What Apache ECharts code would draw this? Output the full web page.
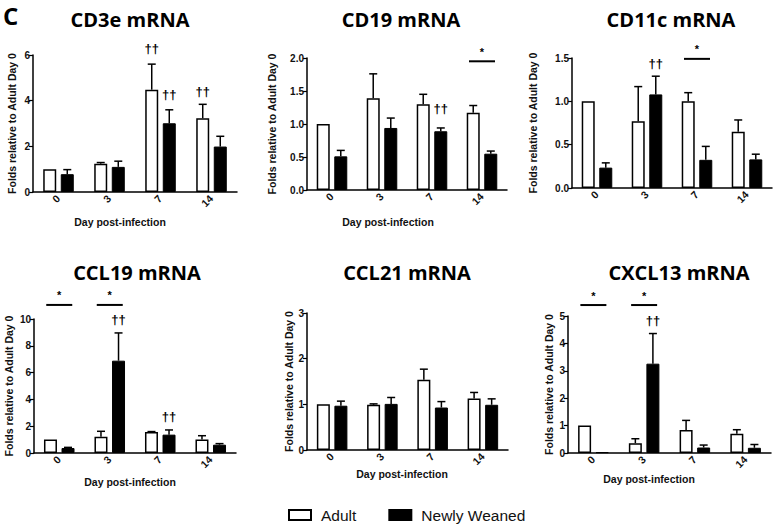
<!DOCTYPE html>
<html><head><meta charset="utf-8">
<script src="https://cdn.jsdelivr.net/npm/echarts@6/dist/echarts.min.js"></script>
<style>html,body{margin:0;padding:0;background:#fff}#c{width:777px;height:524px}</style>
</head><body><div id="c"></div><script>
// ---- data ----
const days = ['0', '3', '7', '14'];
const seriesNames = ['Adult', 'Newly Weaned'];
const panelTitles = ['CD3e mRNA', 'CD19 mRNA', 'CD11c mRNA', 'CCL19 mRNA', 'CCL21 mRNA', 'CXCL13 mRNA'];
const yAxisTitle = 'Folds relative to Adult Day 0';
const xAxisTitle = 'Day post-infection';

const cd3eAdult = [1.0, 1.24, 4.48, 3.23];
const cd3eAdultSem = [0, 0.05, 1.12, 0.61];
const cd3eWeaned = [0.78, 1.10, 3.01, 1.99];
const cd3eWeanedSem = [0.20, 0.25, 0.59, 0.45];

const cd19Adult = [1.0, 1.39, 1.30, 1.17];
const cd19AdultSem = [0, 0.37, 0.15, 0.11];
const cd19Weaned = [0.51, 0.94, 0.89, 0.55];
const cd19WeanedSem = [0.09, 0.15, 0.05, 0.04];

const cd11cAdult = [1.0, 0.77, 1.0, 0.65];
const cd11cAdultSem = [0, 0.40, 0.10, 0.135];
const cd11cWeaned = [0.235, 1.08, 0.325, 0.33];
const cd11cWeanedSem = [0.055, 0.21, 0.155, 0.06];

const ccl19Adult = [1.0, 1.22, 1.57, 1.0];
const ccl19AdultSem = [0, 0.40, 0.03, 0.29];
const ccl19Weaned = [0.37, 6.89, 1.37, 0.62];
const ccl19WeanedSem = [0.05, 2.07, 0.35, 0.08];

const ccl21Adult = [1.0, 0.99, 1.54, 1.13];
const ccl21AdultSem = [0, 0.02, 0.23, 0.13];
const ccl21Weaned = [0.97, 1.01, 0.93, 0.99];
const ccl21WeanedSem = [0.10, 0.14, 0.13, 0.13];

const cxcl13Adult = [1.0, 0.36, 0.84, 0.70];
const cxcl13AdultSem = [0, 0.16, 0.35, 0.15];
const cxcl13Weaned = [0.03, 3.26, 0.20, 0.19];
const cxcl13WeanedSem = [0, 1.10, 0.09, 0.12];

// y-axis ranges: [max, interval, decimals]
const yRanges = [[6, 2, 0], [2, 0.5, 1], [1.5, 0.5, 1], [10, 2, 0], [3, 1, 0], [5, 1, 0]];

// daggers "††": [dayIndex, group (0 Adult, 1 Newly Weaned), y value]
const cd3eDaggers = [[2, 0, 6.3], [2, 1, 4.25], [3, 0, 4.42]];
const cd19Daggers = [[2, 1, 1.24]];
const cd11cDaggers = [[1, 1, 1.44]];
const ccl19Daggers = [[1, 1, 9.95], [2, 1, 2.7]];
const ccl21Daggers = [];
const cxcl13Daggers = [[1, 1, 4.85]];
// significance "*": [dayIndex, y value of bar]
const cd3eStars = [];
const cd19Stars = [[3, 1.95]];
const cd11cStars = [[2, 1.49]];
const ccl19Stars = [[0, 11.05], [1, 11.05]];
const ccl21Stars = [];
const cxcl13Stars = [[0, 5.4], [1, 5.4]];

// ---- build ----
const panels = [
  {a: cd3eAdult, as: cd3eAdultSem, w: cd3eWeaned, ws: cd3eWeanedSem, d: cd3eDaggers, s: cd3eStars},
  {a: cd19Adult, as: cd19AdultSem, w: cd19Weaned, ws: cd19WeanedSem, d: cd19Daggers, s: cd19Stars},
  {a: cd11cAdult, as: cd11cAdultSem, w: cd11cWeaned, ws: cd11cWeanedSem, d: cd11cDaggers, s: cd11cStars},
  {a: ccl19Adult, as: ccl19AdultSem, w: ccl19Weaned, ws: ccl19WeanedSem, d: ccl19Daggers, s: ccl19Stars},
  {a: ccl21Adult, as: ccl21AdultSem, w: ccl21Weaned, ws: ccl21WeanedSem, d: ccl21Daggers, s: ccl21Stars},
  {a: cxcl13Adult, as: cxcl13AdultSem, w: cxcl13Weaned, ws: cxcl13WeanedSem, d: cxcl13Daggers, s: cxcl13Stars}
];
const boxes = [
  {left: 33, top: 55, width: 204, height: 137, tx: 130, ty: 19, gap: 16, xn: [120, 222]},
  {left: 307, top: 58, width: 200, height: 132, tx: 401, ty: 19, gap: 30, xn: [388, 222]},
  {left: 572, top: 58, width: 200, height: 130, tx: 671, ty: 19, gap: 34, xn: null},
  {left: 34, top: 319, width: 202, height: 134, tx: 137, ty: 272, gap: 20, xn: [130, 482]},
  {left: 307, top: 313, width: 201, height: 137, tx: 407, ty: 272, gap: 13, xn: [402, 474]},
  {left: 568, top: 316, width: 203, height: 137, tx: 679, ty: 272, gap: 14, xn: [649, 479]}
];

const BW = 13, GAPR = 0.35;
const OFF = [-(BW + BW * GAPR) / 2, (BW + BW * GAPR) / 2];
const CAP = 4;
const AX = '#000';
const FONT = '"Liberation Sans", Arial, sans-serif';

const grids = [], xAxes = [], yAxes = [], series = [], graphics = [];

panels.forEach((p, k) => {
  const b = boxes[k];
  const r = yRanges[k];
  grids.push({left: b.left, top: b.top, width: b.width, height: b.height, containLabel: false, outerBoundsMode: 'none'});
  xAxes.push({
    type: 'category', gridIndex: k, data: days,
    axisLine: {lineStyle: {color: AX, width: 1.5}},
    axisTick: {alignWithLabel: true, length: 4, lineStyle: {color: AX, width: 1.2}},
    axisLabel: {rotate: 45, margin: 5, color: '#111', fontFamily: FONT, fontWeight: 'bold', fontSize: 10.5}
  });
  yAxes.push({
    type: 'value', gridIndex: k, min: 0, max: r[0], interval: r[1],
    name: yAxisTitle, nameLocation: 'middle', nameGap: b.gap,
    nameTextStyle: {color: '#111', fontFamily: FONT, fontWeight: 'bold', fontSize: 10.5},
    axisLine: {show: true, lineStyle: {color: AX, width: 1.5}},
    axisTick: {show: true, length: 4, lineStyle: {color: AX, width: 1.2}},
    splitLine: {show: false},
    axisLabel: {margin: 3, color: '#111', fontFamily: FONT, fontWeight: 'bold', fontSize: 10,
      formatter: v => v.toFixed(r[2])}
  });
  series.push({
    type: 'bar', name: seriesNames[0], xAxisIndex: k, yAxisIndex: k, data: p.a,
    barWidth: BW, barGap: (GAPR * 100) + '%', z: 2,
    itemStyle: {color: '#fff', borderColor: '#000', borderWidth: 1.5}
  });
  series.push({
    type: 'bar', name: seriesNames[1], xAxisIndex: k, yAxisIndex: k, data: p.w,
    barWidth: BW, barGap: (GAPR * 100) + '%', z: 2,
    itemStyle: {color: '#000', borderColor: '#000', borderWidth: 1}
  });
  [[p.a, p.as], [p.w, p.ws]].forEach((pair, g) => {
    series.push({
      type: 'custom', xAxisIndex: k, yAxisIndex: k, z: 3, silent: true, clip: false,
      data: pair[0].map((v, i) => [i, v, pair[1][i]]),
      renderItem: (params, api) => {
        const e = api.value(2);
        if (!e) return null;
        const i = api.value(0), v = api.value(1);
        const a = api.coord([i, v]), t = api.coord([i, v + e]);
        const x = a[0] + OFF[g];
        return {type: 'group', children: [
          {type: 'line', shape: {x1: x, y1: a[1], x2: x, y2: t[1]}, style: {stroke: '#000', lineWidth: 1.5}},
          {type: 'line', shape: {x1: x - CAP, y1: t[1], x2: x + CAP, y2: t[1]}, style: {stroke: '#000', lineWidth: 1.5}}
        ]};
      }
    });
  });
  if (p.d.length) series.push({
    type: 'custom', xAxisIndex: k, yAxisIndex: k, z: 4, silent: true, clip: false,
    data: p.d,
    renderItem: (params, api) => {
      const c = api.coord([api.value(0), api.value(2)]);
      return {type: 'text', x: c[0] + OFF[api.value(1)], y: c[1],
        style: {text: '\u2020\u2020', font: 'bold 13px ' + FONT, fill: '#000',
          textAlign: 'center', textVerticalAlign: 'middle', align: 'center', verticalAlign: 'middle'}};
    }
  });
  if (p.s.length) series.push({
    type: 'custom', xAxisIndex: k, yAxisIndex: k, z: 4, silent: true, clip: false,
    data: p.s,
    renderItem: (params, api) => {
      const c = api.coord([api.value(0), api.value(1)]);
      return {type: 'group', children: [
        {type: 'line', shape: {x1: c[0] - 13, y1: c[1], x2: c[0] + 13, y2: c[1]}, style: {stroke: '#000', lineWidth: 2}},
        {type: 'text', x: c[0], y: c[1] - 4, style: {text: '*', font: 'bold 11px ' + FONT, fill: '#000',
          textAlign: 'center', textVerticalAlign: 'bottom', align: 'center', verticalAlign: 'bottom'}}
      ]};
    }
  });
  graphics.push({type: 'text', x: b.tx, y: b.ty, style: {text: panelTitles[k], font: 'bold 20px "Open Sans", sans-serif',
    fill: '#000', textAlign: 'center', textVerticalAlign: 'middle', align: 'center', verticalAlign: 'middle'}});
  if (b.xn) graphics.push({type: 'text', x: b.xn[0], y: b.xn[1], style: {text: xAxisTitle, font: 'bold 10.5px ' + FONT,
    fill: '#111', textAlign: 'center', textVerticalAlign: 'middle', align: 'center', verticalAlign: 'middle'}});
});
graphics.push({type: 'text', x: 3, y: 15, style: {text: 'C', font: 'bold 24px "Open Sans", sans-serif', fill: '#000',
  textAlign: 'left', textVerticalAlign: 'middle', align: 'left', verticalAlign: 'middle'}});

const chart = echarts.init(document.getElementById('c'), null, {renderer: 'svg'});
chart.setOption({
  animation: false,
  backgroundColor: '#fff',
  grid: grids, xAxis: xAxes, yAxis: yAxes, series: series,
  legend: {data: seriesNames, left: 288, top: 507, padding: 0, itemWidth: 22, itemHeight: 10, itemGap: 32, icon: 'rect',
    selectedMode: false, textStyle: {fontFamily: FONT, fontSize: 15.5, color: '#111', padding: [0, 0, 0, 5]}},
  graphic: graphics
});
</script></body></html>
